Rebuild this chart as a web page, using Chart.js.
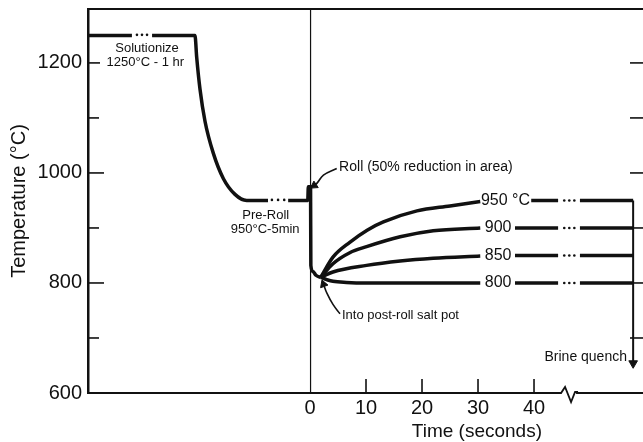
<!DOCTYPE html>
<html>
<head>
<meta charset="utf-8">
<script src="https://cdn.jsdelivr.net/npm/chart.js@4/dist/chart.umd.min.js"></script>
<style>
  html, body { margin: 0; padding: 0; background: #fff; }
  #wrap { width: 643px; height: 442px; }
</style>
</head>
<body>
<div id="wrap"><canvas id="chart" width="643" height="442"></canvas></div>
<script>
// 时间轴(秒): 0 之前和 ~45 s 之后是示意段
const xTicks = [0, 10, 20, 30, 40];
const yTickVals = [600, 800, 1000, 1200];

// solutionize -> 冷却 -> pre-roll -> roll (null = 断开处)
const heatTime = [-39.64, -31.8, -30.0, -28.2, -20.54, -20.23, -19.64, -18.75, -17.27, -15.48, -13.39, -11.3, -7.5, -5.7, -3.9, -0.4, -0.3, 0.1, 0.15, 0.5, 1.07, 1.9];
const heatTemp = [1250, 1250, null, 1250, 1250, 1210, 1152, 1094, 1036, 990, 961, 950, 950, null, 950, 950, 975, 975, 832, 821, 814, 810];

// post-roll salt pot curves
const t950 = [1.9, 4.1, 7.1, 10.2, 13.1, 19.1, 25.0, 30.4, 34.9, 39.5, 44.3, 46.3, 48.2, 57.7];
const v950 = [810, 847, 874, 896, 911, 931, 940, 948, null, 950, 950, null, 950, 950];
const t900 = [1.9, 4.1, 7.1, 10.1, 16.1, 22.0, 30.4, 33.5, 36.6, 44.3, 46.3, 48.2, 57.7];
const v900 = [810, 835, 855, 866, 884, 895, 900, null, 900, 900, null, 900, 900];
const t850 = [1.9, 4.1, 10.1, 16.1, 22.0, 30.4, 33.5, 36.6, 44.3, 46.3, 48.2, 57.7];
const v850 = [810, 820, 832, 840, 845, 849, null, 850, 850, null, 850, 850];
const t800 = [1.9, 3.0, 4.1, 6.5, 10.0, 30.4, 33.5, 36.6, 44.3, 46.3, 48.2, 57.7];
const v800 = [810, 806, 803, 801, 800, 800, null, 800, 800, null, 800, 800];

// "..." 省略点
const dotTime = [-30.9, -30.0, -29.1, -6.8, -5.7, -4.6,
  45.4, 46.3, 47.2, 45.4, 46.3, 47.2, 45.4, 46.3, 47.2, 45.4, 46.3, 47.2];
const dotTemp = [1251, 1251, 1251, 951, 951, 951,
  950, 950, 950, 900, 900, 900, 850, 850, 850, 800, 800, 800];

// brine quench
const quenchTime = [57.7, 57.7];
const quenchTemp = [950, 654];

// 注释箭头
const rollArrowTime = [4.77, 2.4, 1.3, 0.75];
const rollArrowTemp = [1008, 996, 982, 977];
const potArrowTime = [5.36, 4.1, 3.04, 2.41];
const potArrowTemp = [744, 761, 781, 797.6];

const zeroLineTime = [0.1, 0.1];
const zeroLineTemp = [600, 1298];

const pts = (xs, ys) => xs.map((x, i) => ({ x: x, y: ys[i] }));
const FONT = '"Liberation Sans", Arial, sans-serif';
const INK = '#111';

// 文本注释 (t = 秒, v = °C)
const notes = [
  { text: 'Solutionize', t: -29.1, v: 1226, align: 'center', size: 13 },
  { text: '1250°C - 1 hr', t: -29.4, v: 1200, align: 'center', size: 13 },
  { text: 'Pre-Roll', t: -7.9, v: 923, align: 'center', size: 13 },
  { text: '950°C-5min', t: -8.0, v: 898, align: 'center', size: 13 },
  { text: 'Roll (50% reduction in area)', t: 5.2, v: 1010, align: 'left', size: 14 },
  { text: 'Into post-roll salt pot', t: 5.7, v: 741, align: 'left', size: 13 },
  { text: 'Brine quench', t: 56.6, v: 665, align: 'right', size: 14 },
  { text: '950 °C', t: 34.9, v: 950, align: 'center', size: 16 },
  { text: '900', t: 33.6, v: 900, align: 'center', size: 16 },
  { text: '850', t: 33.6, v: 850, align: 'center', size: 16 },
  { text: '800', t: 33.6, v: 800, align: 'center', size: 16 }
];

const decorPlugin = {
  id: 'decor',
  afterDraw(chart) {
    const { ctx, chartArea: a, scales: { x, y } } = chart;
    ctx.save();
    ctx.strokeStyle = INK;
    ctx.fillStyle = INK;

    // 上边框
    ctx.lineWidth = 2;
    ctx.beginPath(); ctx.moveTo(a.left, a.top); ctx.lineTo(a.right, a.top); ctx.stroke();

    // 左侧刻度 (朝内)
    ctx.lineWidth = 1.6;
    [[700, 11], [800, 16], [900, 11], [1000, 16], [1100, 11], [1200, 12]].forEach(([v, len]) => {
      const py = y.getPixelForValue(v);
      ctx.beginPath(); ctx.moveTo(a.left, py); ctx.lineTo(a.left + len, py); ctx.stroke();
    });
    // 右侧刻度
    [700, 800, 900, 1000, 1100, 1200].forEach(v => {
      const py = y.getPixelForValue(v);
      ctx.beginPath(); ctx.moveTo(a.right - 13, py); ctx.lineTo(a.right, py); ctx.stroke();
    });
    // 底部刻度
    xTicks.slice(1).forEach(t => {
      const px = x.getPixelForValue(t);
      ctx.beginPath(); ctx.moveTo(px, a.bottom); ctx.lineTo(px, a.bottom - 14); ctx.stroke();
    });

    // 坐标轴断开符号
    const bx = x.getPixelForValue(45.9);
    const b = a.bottom;
    ctx.fillStyle = '#fff';
    ctx.fillRect(bx - 7, b - 3, 16, 6);
    ctx.lineWidth = 1.8;
    ctx.beginPath();
    ctx.moveTo(bx - 9, b); ctx.lineTo(bx - 6, b); ctx.lineTo(bx - 2, b - 6);
    ctx.lineTo(bx + 4, b + 9); ctx.lineTo(bx + 8, b - 1); ctx.lineTo(bx + 11, b - 1);
    ctx.stroke();

    // 文本
    ctx.fillStyle = INK;
    ctx.textBaseline = 'middle';
    notes.forEach(n => {
      ctx.font = n.size + 'px ' + FONT;
      ctx.textAlign = n.align;
      ctx.fillText(n.text, x.getPixelForValue(n.t), y.getPixelForValue(n.v));
    });

    // x 轴标题
    ctx.font = '19px ' + FONT;
    ctx.textAlign = 'center';
    ctx.fillText('Time (seconds)', x.getPixelForValue(29.8), a.bottom + 39);
    ctx.restore();
  }
};

const lineStyle = (w) => ({
  borderColor: INK, borderWidth: w, pointRadius: 0, fill: false,
  cubicInterpolationMode: 'monotone', spanGaps: false
});

new Chart(document.getElementById('chart'), {
  type: 'line',
  data: {
    datasets: [
      { data: pts(zeroLineTime, zeroLineTemp), borderColor: INK, borderWidth: 1.2, pointRadius: 0 },
      Object.assign({ data: pts(heatTime, heatTemp) }, lineStyle(3.5)),
      Object.assign({ data: pts(t950, v950) }, lineStyle(3.5)),
      Object.assign({ data: pts(t900, v900) }, lineStyle(3.5)),
      Object.assign({ data: pts(t850, v850) }, lineStyle(3.5)),
      Object.assign({ data: pts(t800, v800) }, lineStyle(3.5)),
      {
        data: pts(dotTime, dotTemp), showLine: false,
        pointRadius: 1.3, pointBackgroundColor: INK, pointBorderWidth: 0
      },
      {
        data: pts(quenchTime, quenchTemp), borderColor: INK, borderWidth: 2,
        pointStyle: 'triangle', pointRadius: [0, 5], pointRotation: 180,
        pointBackgroundColor: INK, pointBorderColor: INK, pointBorderWidth: 1
      },
      {
        data: pts(rollArrowTime, rollArrowTemp), borderColor: INK, borderWidth: 1.6, tension: 0.4,
        pointStyle: 'triangle', pointRadius: [0, 0, 0, 4.5], pointRotation: 236,
        pointBackgroundColor: INK, pointBorderColor: INK, pointBorderWidth: 1
      },
      {
        data: pts(potArrowTime, potArrowTemp), borderColor: INK, borderWidth: 1.6, tension: 0.4,
        pointStyle: 'triangle', pointRadius: [0, 0, 0, 4.5], pointRotation: 340,
        pointBackgroundColor: INK, pointBorderColor: INK, pointBorderWidth: 1
      }
    ]
  },
  options: {
    responsive: false,
    animation: false,
    devicePixelRatio: 1,
    events: [],
    layout: { autoPadding: false, padding: { top: 9, right: 0, left: 0, bottom: 0 } },
    plugins: { legend: { display: false }, tooltip: { enabled: false } },
    scales: {
      x: {
        type: 'linear', position: 'bottom',
        min: -39.64, max: 59.46,
        afterFit: s => { s.height = 49; s.paddingLeft = 0; s.paddingRight = 0; },
        afterBuildTicks: s => { s.ticks = xTicks.map(v => ({ value: v })); },
        grid: { display: false, drawTicks: false },
        border: { display: true, color: INK, width: 2 },
        ticks: { color: INK, font: { family: FONT, size: 20 }, padding: 3, maxRotation: 0, callback: v => String(v) }
      },
      y: {
        type: 'linear', position: 'left',
        min: 600, max: 1298,
        afterFit: s => { s.width = 88; s.paddingTop = 0; s.paddingBottom = 0; },
        afterBuildTicks: s => { s.ticks = yTickVals.map(v => ({ value: v })); },
        grid: { display: false, drawTicks: false },
        border: { display: true, color: INK, width: 2.5 },
        ticks: { color: INK, font: { family: FONT, size: 20 }, padding: 6, callback: v => String(v) },
        title: {
          display: true, text: 'Temperature (°C)', color: INK,
          font: { family: FONT, size: 20 }, padding: { top: 7, bottom: 0 }
        }
      }
    }
  },
  plugins: [decorPlugin]
});
</script>
</body>
</html>
